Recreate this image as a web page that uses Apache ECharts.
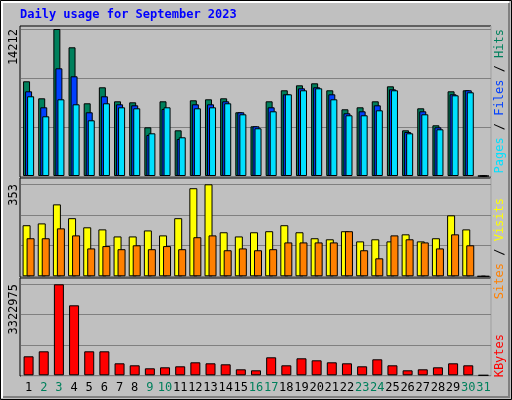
<!DOCTYPE html>
<html>
<head>
<meta charset="utf-8">
<script src="https://cdn.jsdelivr.net/npm/echarts@6/dist/echarts.min.js"></script>
<style>html,body{margin:0;padding:0;background:#c0c0c0}#chart{width:512px;height:400px}</style>
</head>
<body>
<div id="chart"></div>
<script>
var days = ['1','2','3','4','5','6','7','8','9','10','11','12','13','14','15','16','17','18','19','20','21','22','23','24','25','26','27','28','29','30','31'];
var weekend = ['2','3','9','10','16','17','23','24','30','31'];
var hits = [9156,7512,14212,12443,7029,8576,7222,7125,4708,7222,4418,7319,7415,7512,6159,4805,7222,8286,8769,8962,8286,6449,6642,7222,8672,4418,6545,4902,8189,8286,0];
var files = [8189,6642,10412,9639,6159,7706,6932,6835,3964,6478,3577,6932,6932,7222,6159,4805,6642,7899,8479,8576,7899,6062,6255,6835,8382,4254,6255,4708,7899,8286,0];
var pages = [7706,5772,7415,6932,5385,7029,6642,6545,4128,6642,3742,6545,6642,7029,5965,4612,6255,7899,8286,8479,7415,5869,5869,6352,8286,4128,5965,4515,7802,8092,0];
var visits = [196,203,276,223,188,180,153,153,176,157,223,338,353,169,153,169,173,196,169,146,142,173,134,142,134,161,134,146,234,180,0];
var sites = [146,146,184,157,107,116,104,119,104,116,104,150,157,100,107,100,104,130,130,130,130,173,100,69,157,142,130,107,161,119,0];
var kbytes = [693804,876384,3322975,2556120,876384,876384,438192,365160,255612,292128,328644,474708,438192,401676,219096,182580,657288,365160,620772,547740,474708,438192,328644,584256,365160,182580,219096,292128,438192,365160,0];
var maxHits = 14212, maxVisits = 353, maxKb = 3322975;

var chart = echarts.init(document.getElementById('chart'));
var mono = 'DejaVu Sans Mono';

function yax(idx, max) {
    return {
        gridIndex: idx, type: 'value', min: 0, max: max, interval: max / 3,
        axisLabel: {show: false}, axisLine: {show: false}, axisTick: {show: false},
        splitLine: {lineStyle: {color: '#808080', width: 1}}
    };
}
function xax(idx, labels) {
    return {
        gridIndex: idx, type: 'category', data: days,
        axisLine: {show: false}, axisTick: {show: false},
        axisLabel: labels ? {
            show: true, interval: 0, margin: 7, fontFamily: mono, fontSize: 12,
            color: function (v) { return weekend.indexOf(v) >= 0 ? '#00805c' : '#000'; }
        } : {show: false}
    };
}
function bar(name, x, data, color, w, gap) {
    return {
        name: name, type: 'bar', xAxisIndex: x, yAxisIndex: x, data: data,
        barWidth: w, barGap: gap, animation: false,
        itemStyle: {color: color, borderColor: '#000', borderWidth: 1}
    };
}
function panel(y, h) {
    return [
        {type: 'rect', shape: {x: 20, y: y, width: 471, height: h}, style: {fill: 'none', stroke: '#000', lineWidth: 1}},
        {type: 'polyline', shape: {points: [[21, y + h], [491, y + h], [491, y]]}, style: {stroke: '#fff', lineWidth: 1, fill: null}}
    ];
}
function vtext(x, y, rich, str) {
    return {type: 'text', x: x, y: y, rotation: Math.PI / 2,
        style: {text: str, rich: rich, font: '12px ' + mono, align: 'right', verticalAlign: 'middle'}};
}

var graphics = [
    {type: 'rect', shape: {x: 0.5, y: 0.5, width: 511, height: 399}, style: {fill: 'none', stroke: '#000', lineWidth: 1}},
    {type: 'polyline', shape: {points: [[2, 398], [2, 2], [509, 2]]}, style: {stroke: '#fff', lineWidth: 2, fill: null}},
    {type: 'polyline', shape: {points: [[3, 397], [509, 397], [509, 3]]}, style: {stroke: '#808080', lineWidth: 2, fill: null}},
    {type: 'text', x: 20, y: 15, style: {text: 'Daily usage for September 2023', font: 'bold 12px ' + mono, fill: '#0000ff', verticalAlign: 'middle'}}
].concat(panel(26, 151), panel(178, 99), panel(278, 98));

graphics.push(vtext(14, 29, null, String(maxHits)));
graphics.push(vtext(14, 184, null, String(maxVisits)));
graphics.push(vtext(14, 284, null, String(maxKb)));
graphics.push({type: 'text', x: 500, y: 29, rotation: Math.PI / 2,
    style: {text: '{p|Pages} / {f|Files} / {h|Hits}', align: 'right', verticalAlign: 'middle', font: '12px ' + mono,
        rich: {p: {fill: '#00e0ff', font: '12px ' + mono}, f: {fill: '#0040ff', font: '12px ' + mono}, h: {fill: '#00805c', font: '12px ' + mono}}}});
graphics.push({type: 'text', x: 500, y: 198, rotation: Math.PI / 2,
    style: {text: '{s|Sites} / {v|Visits}', align: 'right', verticalAlign: 'middle', font: '12px ' + mono,
        rich: {s: {fill: '#ff8000', font: '12px ' + mono}, v: {fill: '#ffff00', font: '12px ' + mono}}}});
graphics.push({type: 'text', x: 500, y: 334, rotation: Math.PI / 2,
    style: {text: 'KBytes', align: 'right', verticalAlign: 'middle', font: '12px ' + mono, fill: '#ff0000'}});

chart.setOption({
    backgroundColor: '#c0c0c0',
    animation: false,
    grid: [
        {left: 21, width: 470, top: 29, height: 147},
        {left: 21, width: 470, top: 184.3, height: 92},
        {left: 21, width: 470, top: 284.3, height: 91}
    ],
    xAxis: [xax(0, false), xax(1, false), xax(2, true)],
    yAxis: [yax(0, maxHits), yax(1, maxVisits), yax(2, maxKb)],
    series: [
        bar('Hits', 0, hits, '#00805c', 7, '-71%'),
        bar('Files', 0, files, '#0040ff', 7, '-71%'),
        bar('Pages', 0, pages, '#00e0ff', 7, '-71%'),
        bar('Visits', 1, visits, '#ffff00', 8, '-50%'),
        bar('Sites', 1, sites, '#ff8000', 8, '-50%'),
        bar('KBytes', 2, kbytes, '#ff0000', 10, '0%')
    ],
    graphic: graphics
});
</script>
</body>
</html>
